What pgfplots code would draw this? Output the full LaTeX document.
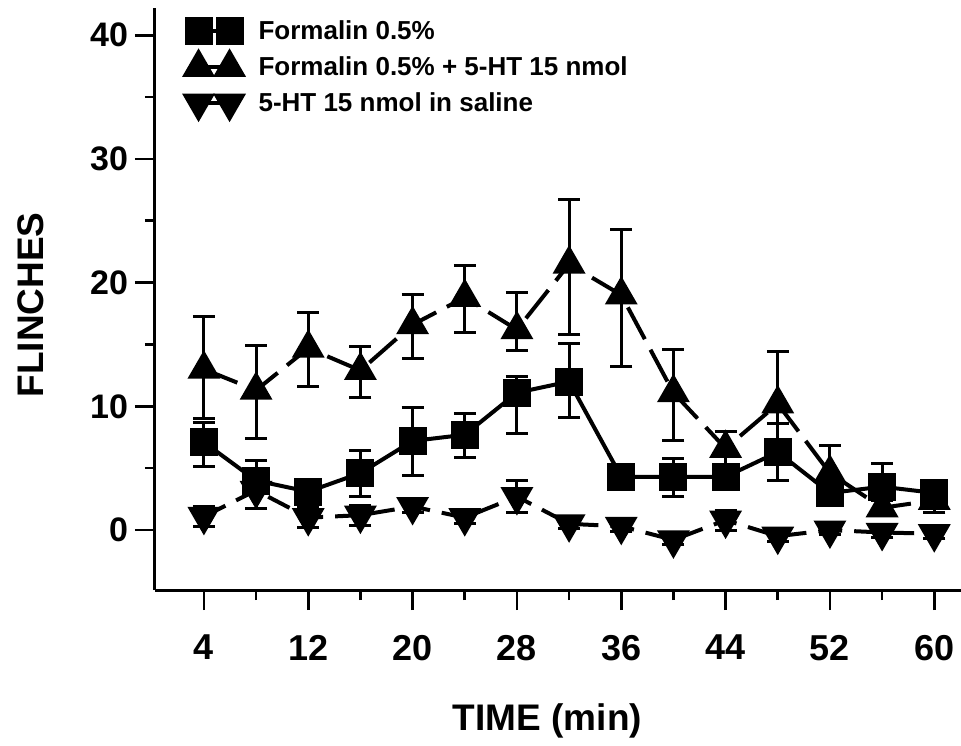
\documentclass[border=0pt]{standalone}
\usepackage{fontspec}
\setmainfont{Liberation Sans}
\usepackage{pgfplots}
\pgfplotsset{compat=1.18}

\begin{document}
\begin{tikzpicture}
% page = 961 x 745 px at 0.5pt per px, axis corner at px (155,590)
\useasboundingbox (-77.5pt,-77.5pt) rectangle (403pt,295pt);
\begin{axis}[
    at={(0pt,0pt)}, anchor=south west,
    scale only axis,
    width=403pt, height=291pt,
    xmin=0.25, xmax=62.05,
    ymin=-4.85, ymax=42.2,
    axis x line*=bottom, axis y line*=left,
    axis line style={line width=1.5pt},
    tick align=outside,
    major tick length=10pt, minor tick length=5pt,
    tick style={black, line width=1.3pt},
    xtick={4,12,...,60}, minor xtick={8,16,...,56},
    ytick={0,10,...,40}, minor ytick={5,15,25,35},
    /pgf/number format/assume math mode=true,
    xticklabel style={font=\bfseries\fontsize{18}{18}\selectfont, yshift=-9pt},
    yticklabel style={font=\bfseries\fontsize{17}{17}\selectfont},
    xlabel={TIME (min)}, ylabel={FLINCHES},
    xlabel style={font=\bfseries\fontsize{18.5}{19}\selectfont,
        at={(axis description cs:0.487,-0.225)}, anchor=center},
    ylabel style={font=\bfseries\fontsize{18.5}{19}\selectfont,
        at={(axis description cs:-0.154,0.49)}, anchor=center},
    legend style={at={(axis description cs:0.03,0.993)}, anchor=north west,
        draw=none, fill=none, row sep=3pt, column sep=6pt,
        font=\bfseries\fontsize{13}{13.5}\selectfont},
    legend cell align=left,
    legend image code/.code={\draw[#1, solid] plot coordinates {(0pt,0pt) (15.5pt,0pt)};},
    every axis plot/.append style={black, line width=2pt},
    error bars/y dir=both, error bars/y explicit,
    error bars/error bar style={line width=1.5pt, solid},
    error bars/error mark options={rotate=90, mark size=5.5pt, line width=1.5pt, solid},
]

% Formalin 0.5%
\addplot[mark=square*, mark size=6pt, mark options={solid}] coordinates {
    (4,7.1) += (0,1.6) -= (0,2.0)
    (8,4.0) += (0,1.6) -= (0,2.3)
    (12,3.1) += (0,0.6) -= (0,0.6)
    (16,4.6) += (0,1.8) -= (0,1.9)
    (20,7.2) += (0,2.7) -= (0,2.8)
    (24,7.7) += (0,1.7) -= (0,1.8)
    (28,11.1) += (0,1.3) -= (0,3.3)
    (32,12.0) += (0,3.1) -= (0,2.9)
    (36,4.3) += (0,0.5) -= (0,0.5)
    (40,4.3) += (0,1.5) -= (0,1.6)
    (44,4.3) += (0,0.6) -= (0,0.6)
    (48,6.3) += (0,2.3) -= (0,2.3)
    (52,3.0) += (0,0.6) -= (0,0.6)
    (56,3.5) += (0,1.9) -= (0,0.6)
    (60,3.0) += (0,0.6) -= (0,1.6)
};
\addlegendentry{Formalin 0.5\%}

% Formalin 0.5% + 5-HT 15 nmol
\addplot[mark=triangle*, mark size=7.5pt, mark options={solid},
    dash pattern=on 18pt off 6pt] coordinates {
    (4,13.0) += (0,4.3) -= (0,4.0)
    (8,11.3) += (0,3.6) -= (0,3.9)
    (12,14.7) += (0,2.9) -= (0,3.1)
    (16,12.9) += (0,1.9) -= (0,2.2)
    (20,16.6) += (0,2.4) -= (0,2.7)
    (24,18.8) += (0,2.6) -= (0,2.8)
    (28,16.2) += (0,3.0) -= (0,1.7)
    (32,21.5) += (0,5.2) -= (0,5.7)
    (36,19.0) += (0,5.3) -= (0,5.8)
    (40,11.1) += (0,3.5) -= (0,3.9)
    (44,6.6) += (0,1.4) -= (0,1.4)
    (48,10.2) += (0,4.2) -= (0,4.2)
    (52,4.6) += (0,2.2) -= (0,2.2)
    (56,1.8) += (0,0.6) -= (0,0.6)
    (60,2.4) += (0,0.5) -= (0,0.5)
};
\addlegendentry{Formalin 0.5\% + 5-HT 15 nmol}

% 5-HT 15 nmol in saline
\addplot[mark=triangle*, mark size=7.5pt, mark options={solid, rotate=180},
    dash pattern=on 12pt off 6pt] coordinates {
    (4,1.1) += (0,0.8) -= (0,0.8)
    (8,3.2) += (0,0.8) -= (0,1.5)
    (12,1.0) += (0,0.8) -= (0,0.8)
    (16,1.2) += (0,0.8) -= (0,0.8)
    (20,1.9) += (0,0.5) -= (0,0.5)
    (24,1.0) += (0,0.5) -= (0,0.5)
    (28,2.7) += (0,1.3) -= (0,1.3)
    (32,0.5) += (0,0.4) -= (0,0.4)
    (36,0.3) += (0,0.4) -= (0,0.4)
    (40,-0.8) += (0,0.4) -= (0,0.4)
    (44,0.8) += (0,0.8) -= (0,0.8)
    (48,-0.5) += (0,0.4) -= (0,0.4)
    (52,0.0) += (0,0.4) -= (0,0.4)
    (56,-0.2) += (0,0.4) -= (0,0.4)
    (60,-0.3) += (0,0.4) -= (0,0.4)
};
\addlegendentry{5-HT 15 nmol in saline}
\end{axis}
\end{tikzpicture}
\end{document}
